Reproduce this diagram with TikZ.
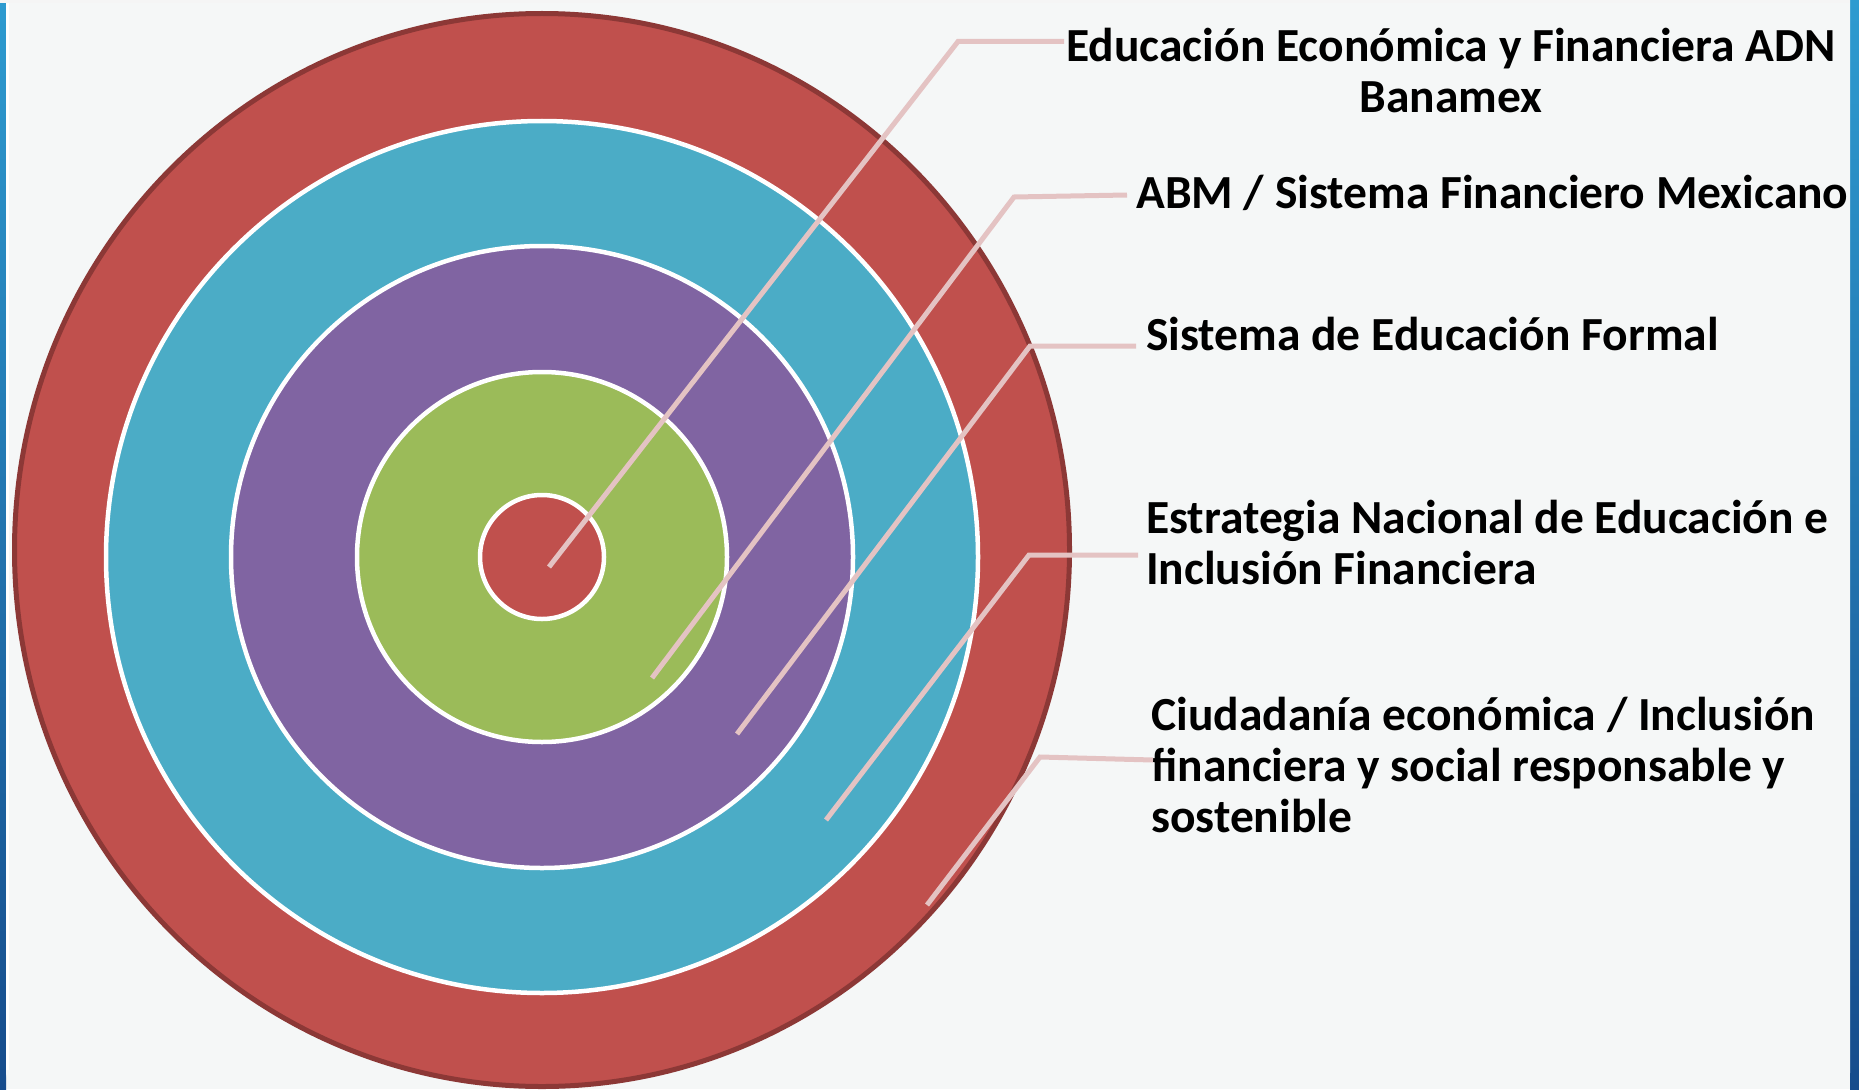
\documentclass[tikz,border=0pt]{standalone}
\usepackage{fontspec}
\setmainfont{Carlito}
\definecolor{bgc}{HTML}{F5F7F7}
\definecolor{ringred}{HTML}{C0504D}
\definecolor{ringdark}{HTML}{8C3836}
\definecolor{ringcyan}{HTML}{4BACC6}
\definecolor{ringpurple}{HTML}{8064A2}
\definecolor{ringgreen}{HTML}{9BBB59}
\definecolor{leadc}{HTML}{E4C3C3}
\definecolor{bluetop}{HTML}{2E9BD0}
\definecolor{bluebot}{HTML}{164C8C}
\begin{document}
\begin{tikzpicture}[x=1pt,y=-1pt,
  lbl/.style={inner sep=0pt, font=\fontsize{47.5}{51}\selectfont\bfseries, text=black},
  leader/.style={draw=leadc, line width=5pt, line join=miter},
  ring/.style={draw=white, line width=4.5pt}]
\useasboundingbox (0,0) rectangle (1859,1089);
% background frame
\fill[bgc] (0,0) rectangle (1859,1089);
\shade[top color=bluetop, bottom color=bluebot] (0,0) rectangle (6,1089);
\shade[top color=bluetop, bottom color=bluebot] (1850,0) rectangle (1859,1089);
\fill[bgc, rounded corners=12pt] (6,-30) rectangle (1850,1085);
\fill[bgc] (40,1080) rectangle (1820,1089);
\draw[white, line width=2.5pt] (7.5,0) -- (7.5,1070);
\fill[black!4] (0,0) rectangle (1850,3);
% rings
\fill[ringred, draw=ringdark, line width=5pt] (542,550) ellipse [x radius=527.5, y radius=536.5];
\path[ring, fill=ringcyan] (542,557) circle [radius=436];
\path[ring, fill=ringpurple] (542,557) circle [radius=311];
\path[ring, fill=ringgreen] (542,557) circle [radius=185];
\path[ring, fill=ringred] (542,557) circle [radius=62];
% labels (base anchor = baseline of the last line)
\node[lbl, align=center, anchor=base] (t1) at (1451,113) {Educación Económica y Financiera ADN\\Banamex};
\node[lbl, anchor=base west] (t2) at (1136,208) {ABM / Sistema Financiero Mexicano};
\node[lbl, anchor=base west] (t3) at (1146,350) {Sistema de Educación Formal};
\node[lbl, align=left, anchor=base west] (t4) at (1146,584) {Estrategia Nacional de Educación e\\Inclusión Financiera};
\node[lbl, align=left, anchor=base west] (t5) at (1151,832) {Ciudadanía económica / Inclusión\\financiera y social responsable y\\sostenible};
% leader points
\coordinate (p1) at (549,567);  \coordinate (k1) at (958,41.5); \coordinate (e1) at (1064,41.5);
\coordinate (p2) at (652,678);  \coordinate (k2) at (1014,197); \coordinate (e2) at (1127,195);
\coordinate (p3) at (737,734);  \coordinate (k3) at (1030,346); \coordinate (e3) at (1136,346);
\coordinate (p4) at (826,820);  \coordinate (k4) at (1029,555); \coordinate (e4) at (1138,555);
\coordinate (p5) at (927,905);  \coordinate (k5) at (1040,757); \coordinate (e5) at (1153,760);
\draw[leader] (p1) -- (k1) -- (e1);
\draw[leader] (p2) -- (k2) -- (e2);
\draw[leader] (p3) -- (k3) -- (e3);
\draw[leader] (p4) -- (k4) -- (e4);
\draw[leader] (p5) -- (k5) -- (e5);
\end{tikzpicture}
\end{document}
